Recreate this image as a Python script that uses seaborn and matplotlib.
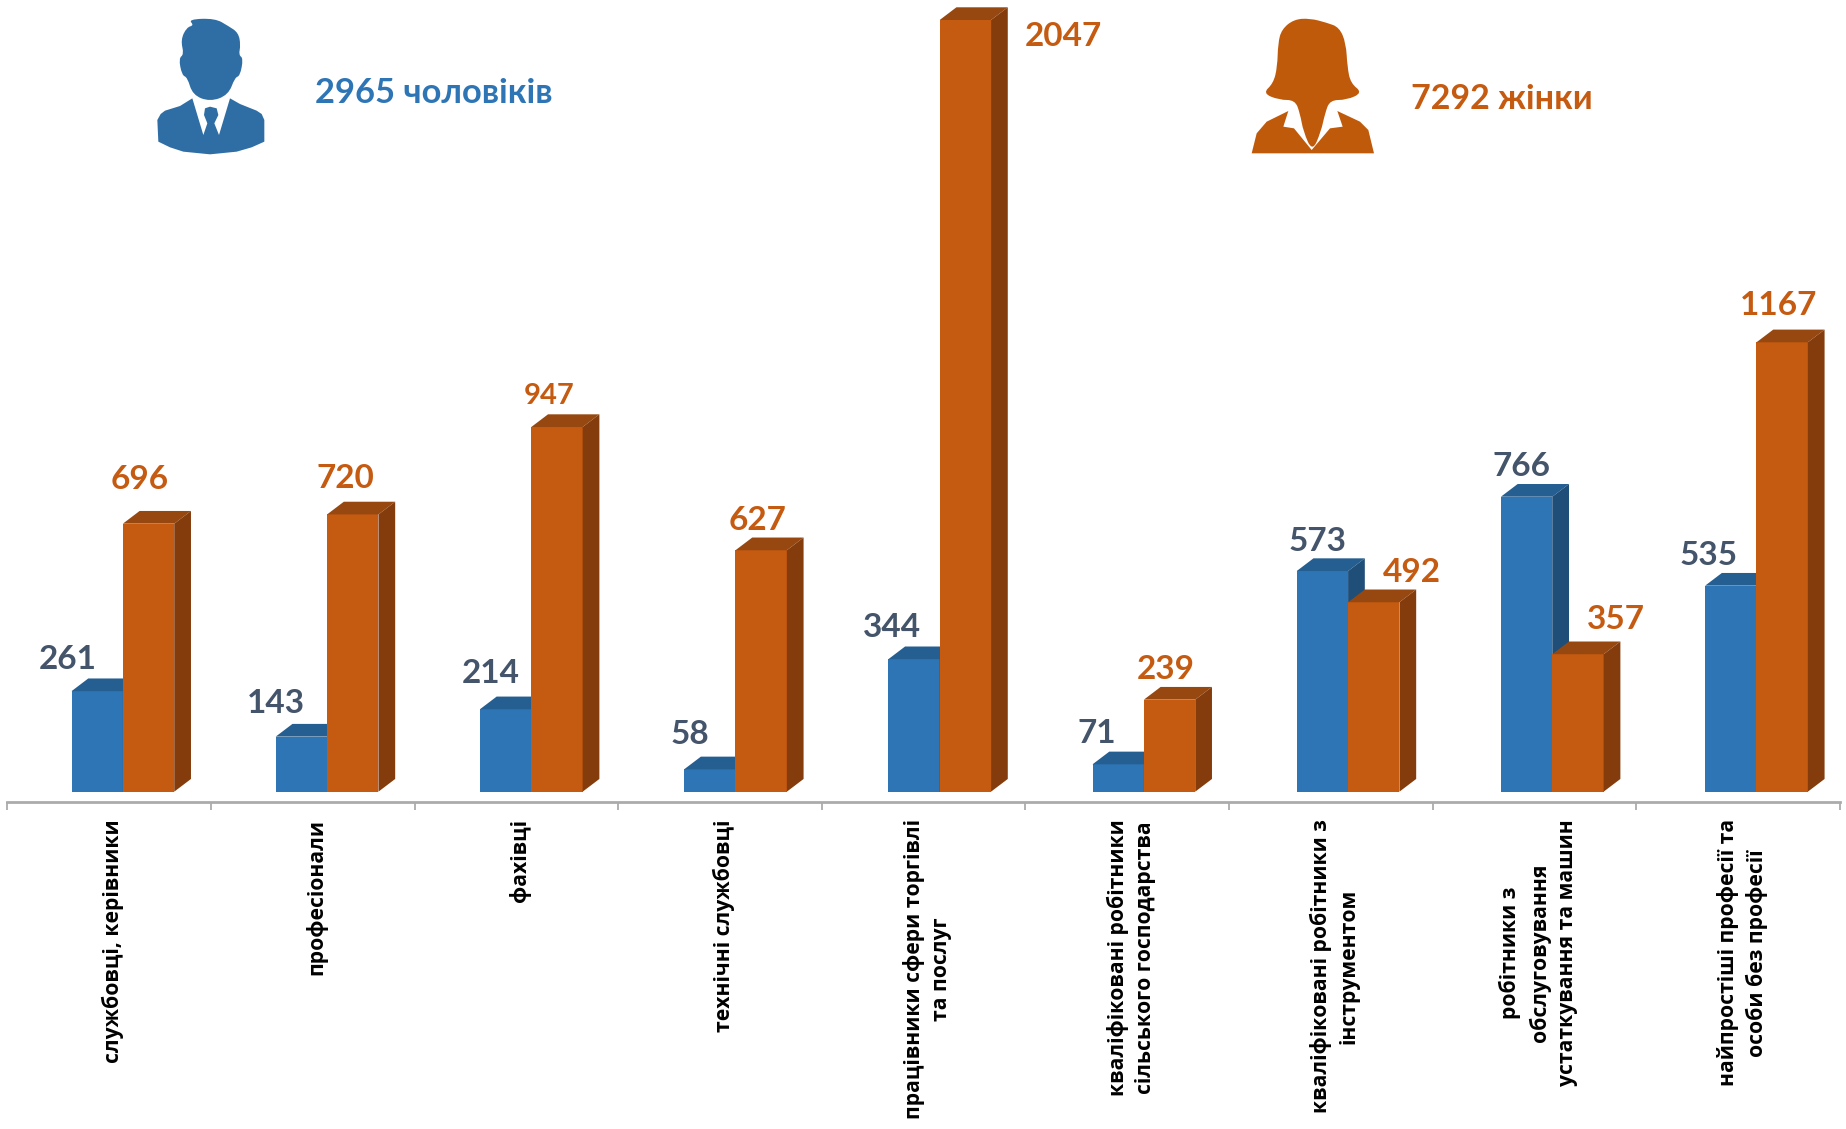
"""Employed by occupation group and sex: pseudo-3D grouped bars with person icons."""

import numpy as np
import pandas as pd
import seaborn as sns
import matplotlib.pyplot as plt
from matplotlib.patches import PathPatch, Polygon
from matplotlib.path import Path


CATEGORIES = [
    "службовці, керівники",
    "професіонали",
    "фахівці",
    "технічні службовці",
    "працівники сфери торгівлі\nта послуг",
    "кваліфіковані робітники\nсільського господарства",
    "кваліфіковані робітники з\nінструментом",
    "робітники з\nобслуговування\nустаткування та машин",
    "найпростіші професії та\nособи без професії",
]
MEN = [261, 143, 214, 58, 344, 71, 573, 766, 535]
WOMEN = [696, 720, 947, 627, 2047, 239, 492, 357, 1167]

MEN_TOTAL = "2965 чоловіків"
WOMEN_TOTAL = "7292 жінки"

# label offsets from the bar's front top edge, in pixels
MEN_DX = [-29, -25, -15, -20, -22, -21, -5, -5, -22]
MEN_DY = [32, 33, 36, 35, 32, 31, 30, 30, 30]
WOMEN_DX = [-9, -7, -8, -4, 98, -4, 38, 38, -4]
WOMEN_DY = [44, 36, 31, 30, -17, 30, 30, 35, 37]

W, H = 1846, 1129
BLUE, BLUE_TOP, BLUE_SIDE = "#2E75B6", "#255E91", "#1F4E79"
ORANGE, ORANGE_TOP, ORANGE_SIDE = "#C55A11", "#974810", "#843C0C"
MEN_TEXT = "#44546A"

# axis runs past the top bar on purpose: the tallest bar is cut off at 2004
Y_MIN, Y_MAX = -26.8, 2004
X_MIN = -0.566
X_MAX = X_MIN + 1832.7 / 204.2
TICK_STEP = 203.63 / 204.2
DEPTH_X = 0.082   # category units
DEPTH_Y = 33      # value units

sns.set_theme(style="white")
plt.rcParams["font.family"] = ["Lato", "Open Sans", "DejaVu Sans"]
LABEL_FONT = ["Open Sans", "DejaVu Sans"]


def smooth_path(points):
    """Closed quadratic spline running through the midpoints of the given outline."""
    pts = np.asarray(points, dtype=float)
    mids = (pts + np.roll(pts, -1, axis=0)) / 2
    verts = [mids[-1]]
    codes = [Path.MOVETO]
    for p, m in zip(pts, mids):
        verts += [p, m]
        codes += [Path.CURVE3, Path.CURVE3]
    return Path(verts, codes)


def zoomed(points, x0):
    """Icon outlines were traced at 3x from a crop starting at x0."""
    return [(x / 3 + x0, y / 3) for x, y in points]


def draw_faces(ax, bars, top_color, side_color, zorder):
    """Add the top and side faces that give each bar its depth."""
    for bar in bars:
        x0 = bar.get_x()
        x1 = x0 + bar.get_width()
        y = min(bar.get_height(), Y_MAX)
        top = [(x0, y), (x1, y), (x1 + DEPTH_X, y + DEPTH_Y), (x0 + DEPTH_X, y + DEPTH_Y)]
        side = [(x1, 0), (x1 + DEPTH_X, DEPTH_Y), (x1 + DEPTH_X, y + DEPTH_Y), (x1, y)]
        ax.add_patch(Polygon(top, closed=True, fc=top_color, ec="none", zorder=zorder, clip_on=False))
        ax.add_patch(Polygon(side, closed=True, fc=side_color, ec="none", zorder=zorder, clip_on=False))


def label_bars(ax, bars, values, dxs, dys, color, sizes):
    for bar, value, dx, dy, size in zip(bars, values, dxs, dys, sizes):
        ax.annotate(
            str(value),
            xy=(bar.get_x() + bar.get_width() / 2, min(value, Y_MAX)),
            xytext=(dx, dy),
            textcoords="offset pixels",
            ha="center",
            va="center",
            color=color,
            fontsize=size,
            fontweight="bold",
            annotation_clip=False,
            zorder=6,
        )


df = pd.DataFrame(
    {
        "category": CATEGORIES * 2,
        "count": MEN + WOMEN,
        "sex": ["men"] * len(MEN) + ["women"] * len(WOMEN),
    }
)

fig = plt.figure(figsize=(W / 100, H / 100), dpi=100, facecolor="white")
ax = fig.add_axes([7.3 / W, 1 - 802 / H, (1840 - 7.3) / W, (802 - 20) / H])
ax.patch.set_alpha(0)

sns.barplot(
    data=df,
    x="category",
    y="count",
    hue="sex",
    palette={"men": BLUE, "women": ORANGE},
    order=CATEGORIES,
    hue_order=["men", "women"],
    width=0.503,
    gap=0,
    saturation=1,
    linewidth=0,
    legend=False,
    ax=ax,
)

men_bars, women_bars = ax.containers[0], ax.containers[1]
for bar in men_bars:
    bar.set_zorder(2)
for bar in women_bars:
    bar.set_zorder(4)
draw_faces(ax, men_bars, BLUE_TOP, BLUE_SIDE, 3)
draw_faces(ax, women_bars, ORANGE_TOP, ORANGE_SIDE, 5)

men_sizes = [24] * 9
women_sizes = [24, 24, 21, 24, 24, 24, 24, 24, 24]
label_bars(ax, men_bars, MEN, MEN_DX, MEN_DY, MEN_TEXT, men_sizes)
label_bars(ax, women_bars, WOMEN, WOMEN_DX, WOMEN_DY, ORANGE, women_sizes)

ax.set_xlim(X_MIN, X_MAX)
ax.set_ylim(Y_MIN, Y_MAX)
ax.set_xlabel("")
ax.set_ylabel("")
ax.set_yticks([])
sns.despine(ax=ax, left=True)
ax.spines["bottom"].set_color("#ABABAB")
ax.spines["bottom"].set_linewidth(2)

# ticks sit on the category boundaries, labels between them
ax.set_xticks(np.arange(10) * TICK_STEP + X_MIN)
ax.set_xticklabels([])
ax.set_xticks((np.arange(9) + 0.5) * TICK_STEP + X_MIN + 0.02, minor=True)
ax.set_xticklabels(CATEGORIES, minor=True, rotation=90, ha="center", va="top",
                   multialignment="center", fontsize=15.2, fontweight="bold",
                   color="black", family=LABEL_FONT, linespacing=1.4)
ax.tick_params(axis="x", which="major", length=6, width=1.3, color="#ABABAB", bottom=True)
ax.tick_params(axis="x", which="minor", length=0, pad=12.5, bottom=True)

# header icons and totals, placed in pixel coordinates
overlay = fig.add_axes([0, 0, 1, 1], zorder=10)
overlay.set_xlim(0, W)
overlay.set_ylim(H, 0)
overlay.axis("off")
overlay.patch.set_alpha(0)

MAN_COLOR = "#2F6EA5"
man_head = [(205, 58), (285, 55), (325, 78), (355, 98), (362, 135), (356, 165), (370, 175),
            (360, 228), (345, 232), (325, 285), (270, 305), (218, 285), (202, 232), (186, 226),
            (176, 175), (192, 163), (182, 120), (200, 82), (222, 76)]
man_body = [(217, 295), (250, 405), (262, 370), (252, 345), (255, 325), (270, 320), (290, 325),
            (295, 345), (283, 370), (297, 405), (330, 295), (360, 312), (410, 332), (425, 342),
            (433, 360), (433, 425), (395, 442), (350, 455), (270, 463), (190, 455), (150, 442),
            (115, 425), (112, 360), (122, 342), (135, 332), (180, 318)]
overlay.add_patch(PathPatch(smooth_path(zoomed(man_head, 120)), fc=MAN_COLOR, ec="none"))
overlay.add_patch(Polygon(zoomed(man_body, 120), closed=True, fc=MAN_COLOR, ec="none"))

WOMAN_COLOR = "#C05A0B"
woman_hair = [(270, 55), (222, 58), (185, 88), (174, 130), (172, 200), (160, 250), (128, 280),
              (178, 300), (225, 300), (240, 340), (250, 395), (277, 455), (303, 395), (315, 340),
              (330, 300), (380, 300), (428, 278), (392, 250), (382, 200), (378, 130), (358, 82),
              (320, 68)]
woman_body = [(95, 460), (110, 400), (140, 365), (205, 333), (190, 380), (222, 385), (275, 450),
              (330, 385), (368, 380), (352, 333), (420, 365), (445, 390), (462, 460)]
overlay.add_patch(PathPatch(smooth_path(zoomed(woman_hair, 1220)), fc=WOMAN_COLOR, ec="none"))
overlay.add_patch(Polygon(zoomed(woman_body, 1220), closed=True, fc=WOMAN_COLOR, ec="none"))

overlay.text(315, 93, MEN_TOTAL, color=BLUE, fontsize=24.8, fontweight="bold", ha="left", va="center")
overlay.text(1411, 99, WOMEN_TOTAL, color=ORANGE, fontsize=24.5, fontweight="bold", ha="left", va="center")

fig.savefig("out.png", dpi=100)
plt.close(fig)
